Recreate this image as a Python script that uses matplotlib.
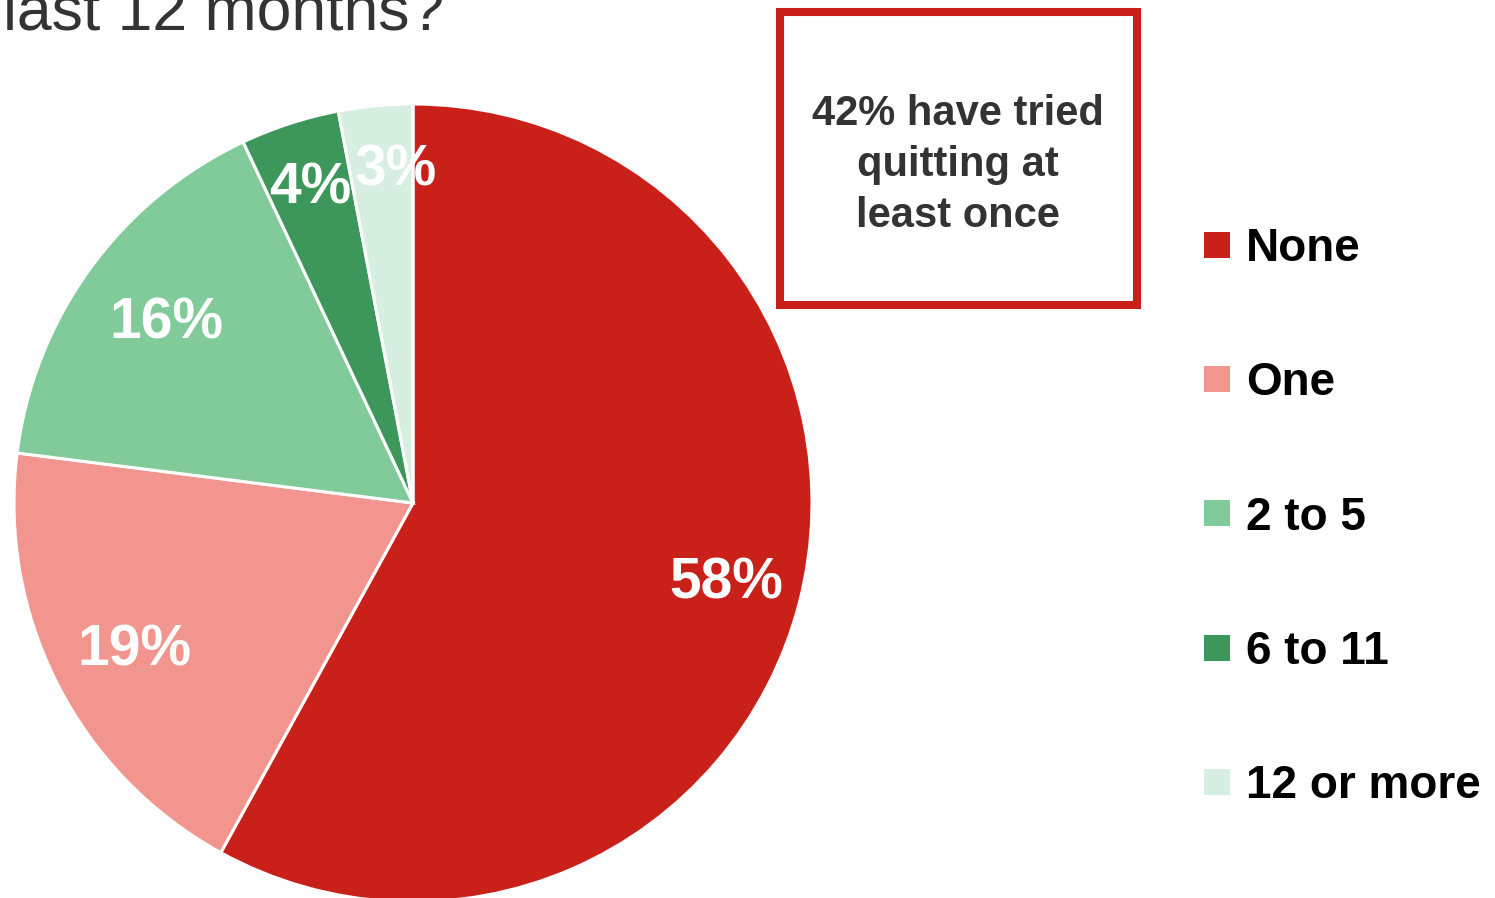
import numpy as np
import matplotlib.pyplot as plt
from matplotlib.patches import Patch, Rectangle

plt.rcParams['font.family'] = ['Liberation Sans', 'DejaVu Sans']

# Number of quit attempts in the last 12 months (percent of respondents)
categories = ['None', 'One', '2 to 5', '6 to 11', '12 or more']
shares = [58, 19, 16, 4, 3]
colors = ['#C9211A', '#F1958E', '#80CB99', '#3D975A', '#D7EFE0']
callout = '42% have tried\nquitting at\nleast once'

W, H = 1495, 898
fig = plt.figure(figsize=(W / 100, H / 100), dpi=100)

# pie axes, placed in pixel terms: centre (413, 503), radius 399
cx, cy, r = 413, 503, 399
ax = fig.add_axes([(cx - r) / W, (H - cy - r) / H, 2 * r / W, 2 * r / H])
wedges, texts, autotexts = ax.pie(
    shares, colors=colors, startangle=90, counterclock=False,
    autopct='%d%%', pctdistance=0.8, radius=1,
    wedgeprops=dict(edgecolor='white', linewidth=2.2),
    textprops=dict(color='white', fontsize=41, fontweight='bold'))

# nudge the value labels: small slices sit further out so they don't collide
label_dist = [0.81, 0.79, 0.765, 0.83, 0.835]
label_turn = [0, 1, 0, 0, -2.5]
for w, t, d, da in zip(wedges, autotexts, label_dist, label_turn):
    w.set_clip_on(False)
    mid = np.deg2rad((w.theta1 + w.theta2) / 2 + da)
    t.set_position((d * np.cos(mid), d * np.sin(mid)))
ax.set_xlim(-1, 1)
ax.set_ylim(-1, 1)
ax.set_aspect('equal')
ax.axis('off')

# cut-off question title at the top
fig.text(3 / W, 1 - 30 / H, 'last 12 months?', fontsize=45, color='#333333',
         ha='left', va='baseline')

# callout box
fig.patches.append(Rectangle((780 / W, 1 - 305 / H), 357 / W, 293 / H,
                             transform=fig.transFigure, fill=False,
                             edgecolor='#C9211A', linewidth=5.8))
fig.text(958 / W, 1 - 94 / H, callout, fontsize=30, fontweight='bold',
         color='#333333', ha='center', va='top', multialignment='center',
         linespacing=1.35)

handles = [Patch(facecolor=c, edgecolor='none') for c in colors]
fig.legend(handles, categories, loc='upper left',
           bbox_to_anchor=(1204 / W, 1 - 227 / H), frameon=False,
           prop=dict(size=33, weight='bold'), handlelength=0.57,
           handleheight=0.5, handletextpad=0.35, labelspacing=1.97,
           borderpad=0, borderaxespad=0)

fig.savefig('out.png', dpi=100)
